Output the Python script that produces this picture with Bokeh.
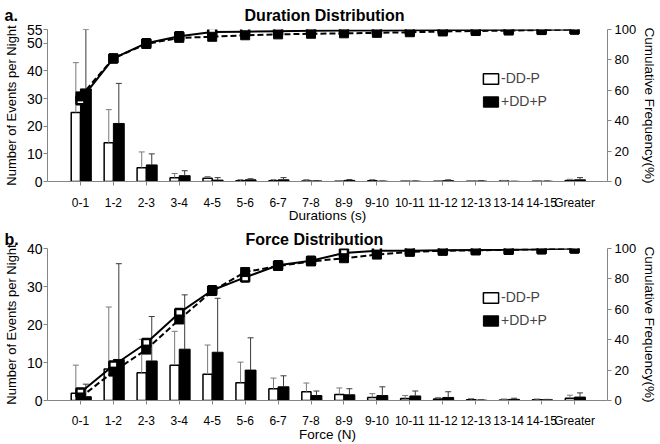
import math
from bokeh.plotting import figure
from bokeh.models import Range1d, LinearAxis, FixedTicker, Legend, LegendItem
from bokeh.layouts import column
from bokeh.embed import file_html
from bokeh.resources import INLINE

# ---------------- data ----------------
categories = ["0-1", "1-2", "2-3", "3-4", "4-5", "5-6", "6-7", "7-8", "8-9",
              "9-10", "10-11", "11-12", "12-13", "13-14", "14-15", "Greater"]
series_names = ["-DD-P", "+DD+P"]

# Panel a: Duration distribution (events per night)
dur_nodd = [25.0, 14.0, 5.0, 1.4, 1.2, 0.25, 0.3, 0.2, 0.1, 0.3, 0.1, 0.1, 0.05, 0.2, 0.1, 0.4]
dur_nodd_err = [43.0, 26.0, 10.7, 2.9, 1.8, 0.7, 0.7, 0.7, 0.3, 0.7, 0.2, 0.3, 0.1, 0.4, 0.2, 0.8]
dur_dd = [33.5, 21.0, 6.0, 2.1, 0.5, 0.6, 0.6, 0.2, 0.4, 0.1, 0.1, 0.3, 0.15, 0.05, 0.1, 0.6]
dur_dd_err = [55.0, 35.5, 10.0, 3.9, 1.4, 1.0, 1.4, 0.3, 0.7, 0.2, 0.2, 0.6, 0.3, 0.1, 0.2, 1.4]
dur_cum_nodd = [53.5, 81.0, 91.0, 95.5, 98.3, 98.6, 98.9, 99.1, 99.3, 99.4, 99.5, 99.6, 99.7, 99.8, 99.9, 100.0]
dur_cum_dd = [56.0, 81.0, 90.5, 94.5, 95.2, 96.2, 96.8, 97.2, 97.5, 97.8, 98.2, 98.7, 99.0, 99.3, 99.6, 100.0]
dur_left_ticks = [0, 10, 20, 30, 40, 50, 55]

# Panel b: Force distribution (events per night)
force_nodd = [1.9, 8.3, 7.3, 9.3, 6.9, 4.7, 3.1, 2.3, 1.6, 0.8, 0.5, 0.4, 0.2, 0.1, 0.2, 0.6]
force_nodd_err = [9.3, 24.6, 16.1, 18.2, 14.6, 10.1, 5.9, 4.6, 3.3, 1.8, 1.3, 0.8, 0.5, 0.4, 0.4, 1.4]
force_dd = [1.0, 10.8, 10.4, 13.5, 12.7, 8.0, 3.6, 1.3, 1.5, 1.3, 1.2, 0.8, 0.1, 0.3, 0.2, 0.9]
force_dd_err = [4.3, 36.0, 22.1, 27.8, 26.9, 16.5, 6.5, 2.5, 3.1, 3.6, 2.5, 2.3, 0.2, 0.6, 0.3, 2.0]
force_cum_nodd = [5.3, 23.0, 37.8, 57.6, 72.5, 81.0, 89.0, 92.0, 97.0, 98.5, 98.5, 98.8, 99.0, 99.2, 99.5, 100.0]
force_cum_dd = [2.0, 19.0, 33.5, 53.3, 72.0, 84.5, 88.5, 91.5, 93.6, 96.0, 97.8, 98.5, 98.8, 99.1, 99.5, 100.0]
force_left_ticks = [0, 10, 20, 30, 40]

cum_ticks = [0, 20, 40, 60, 80, 100]

FONT = "Liberation Sans"
AXC = "#858585"
GAP = "\u00a0" * 51   # spacing between panel tag and panel title


def build(tag, title, xtitle, nodd, nodd_err, dd, dd_err, cum_nodd, cum_dd,
          left_ticks, ymax, height, top, bottom, xstd, xlab_std, title_std, title_valign):
    p = figure(width=660, height=height, output_backend="svg", toolbar_location=None,
               x_range=Range1d(-1, 16), y_range=Range1d(0, ymax),
               min_border_left=44, min_border_right=50,
               min_border_top=top, min_border_bottom=bottom)
    p.extra_y_ranges = {"cum": Range1d(0, 100)}
    p.outline_line_color = None
    p.xgrid.visible = False
    p.ygrid.visible = False
    p.background_fill_color = "white"
    p.border_fill_color = "white"

    p.title.text = tag + GAP + title
    p.title.align = "left"
    p.title.offset = -43
    p.title.vertical_align = title_valign
    p.title.text_font = FONT
    p.title.text_font_size = "16px"
    p.title.text_font_style = "bold"
    p.title.text_color = "black"
    p.title.standoff = title_std

    idx = list(range(len(categories)))
    xw = [i - 0.14 for i in idx]
    xb = [i + 0.165 for i in idx]

    rw = p.vbar(x=xw, top=nodd, bottom=0, width=0.28, fill_color="white",
                line_color="black", line_width=1.5)
    rb = p.vbar(x=xb, top=dd, bottom=0, width=0.33, fill_color="black",
                line_color="black", line_width=1)

    # error bars (upper only)
    p.segment(x0=xw, y0=nodd, x1=xw, y1=nodd_err, line_color="#7a7a7a", line_width=1)
    p.scatter(x=xw, y=nodd_err, marker="dash", size=6, line_color="#7a7a7a", line_width=1)
    p.segment(x0=xb, y0=dd, x1=xb, y1=dd_err, line_color="#3a3a3a", line_width=1)
    p.scatter(x=xb, y=dd_err, marker="dash", size=6, line_color="#3a3a3a", line_width=1)

    # cumulative curves
    p.line(x=idx, y=cum_nodd, y_range_name="cum", line_color="black", line_width=2)
    p.line(x=idx, y=cum_dd, y_range_name="cum", line_color="black", line_width=2,
           line_dash="6 3")
    p.scatter(x=idx, y=cum_nodd, y_range_name="cum", marker="square", size=8,
              fill_color="white", line_color="black", line_width=2.5)
    p.scatter(x=idx, y=cum_dd, y_range_name="cum", marker="square", size=9,
              fill_color="black", line_color="black", line_width=1)

    # axes
    xa = p.xaxis[0]
    xa.ticker = FixedTicker(ticks=idx)
    xa.major_label_overrides = {i: c for i, c in enumerate(categories)}
    xa.major_label_text_font = FONT
    xa.major_label_text_font_size = "12px"
    xa.major_label_text_color = "black"
    xa.major_label_standoff = xstd
    xa.major_tick_in = 0
    xa.major_tick_out = 4
    xa.minor_tick_line_color = None
    xa.axis_line_color = AXC
    xa.major_tick_line_color = AXC
    xa.axis_label = xtitle
    xa.axis_label_text_font = FONT
    xa.axis_label_text_font_size = "13.5px"
    xa.axis_label_text_font_style = "normal"
    xa.axis_label_text_color = "black"
    xa.axis_label_standoff = xlab_std

    ya = p.yaxis[0]
    ya.ticker = FixedTicker(ticks=left_ticks)
    ya.major_label_text_font = FONT
    ya.major_label_text_font_size = "14px"
    ya.major_label_text_color = "black"
    ya.major_label_standoff = 1
    ya.major_tick_in = 0
    ya.major_tick_out = 4
    ya.minor_tick_line_color = None
    ya.axis_line_color = AXC
    ya.major_tick_line_color = AXC
    ya.axis_label = "Number of Events per Night"
    ya.axis_label_text_font = FONT
    ya.axis_label_text_font_size = "13px"
    ya.axis_label_text_font_style = "normal"
    ya.axis_label_text_color = "black"
    ya.axis_label_standoff = 5

    ra = LinearAxis(y_range_name="cum", ticker=FixedTicker(ticks=cum_ticks))
    ra.major_label_text_font = FONT
    ra.major_label_text_font_size = "13px"
    ra.major_label_text_color = "black"
    ra.major_label_standoff = 3
    ra.major_tick_in = 0
    ra.major_tick_out = 4
    ra.minor_tick_line_color = None
    ra.axis_line_color = AXC
    ra.major_tick_line_color = AXC
    ra.axis_label = "Cumulative Frequency(%)"
    ra.axis_label_text_font = FONT
    ra.axis_label_text_font_size = "13.5px"
    ra.axis_label_text_font_style = "normal"
    ra.axis_label_text_color = "black"
    ra.axis_label_standoff = 3
    p.add_layout(ra, "right")

    # legend
    legend = Legend(items=[LegendItem(label=series_names[0], renderers=[rw]),
                           LegendItem(label=series_names[1], renderers=[rb])],
                    location=(434, 72), glyph_width=19, glyph_height=13,
                    label_height=13, spacing=7, padding=0, margin=0,
                    label_standoff=1, label_text_font=FONT,
                    label_text_font_size="14px", border_line_color=None,
                    background_fill_alpha=0)
    p.add_layout(legend)
    return p


pa = build("a.", "Duration Distribution", "Durations (s)", dur_nodd, dur_nodd_err,
           dur_dd, dur_dd_err, dur_cum_nodd, dur_cum_dd, dur_left_ticks, 55,
           height=225, top=29, bottom=40, xstd=10, xlab_std=-5, title_std=8,
           title_valign="top")
pb = build("b.", "Force Distribution", "Force (N)", force_nodd, force_nodd_err,
           force_dd, force_dd_err, force_cum_nodd, force_cum_dd, force_left_ticks, 40,
           height=219, top=23, bottom=40, xstd=9, xlab_std=-4, title_std=2,
           title_valign="bottom")

layout = column(pa, pb, spacing=0)
open("out.html", "w").write(file_html(layout, INLINE))
